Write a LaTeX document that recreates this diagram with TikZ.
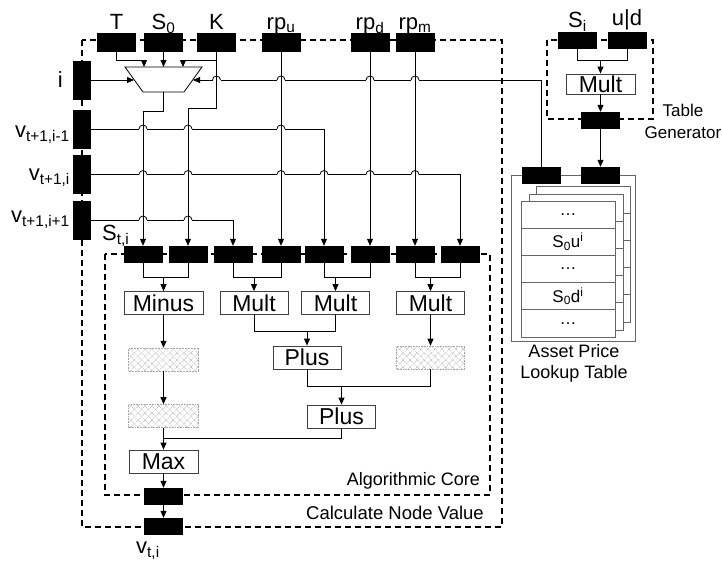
\documentclass[tikz,border=0pt]{standalone}
\usepackage{fontspec}
\setmainfont{Liberation Sans}
\usetikzlibrary{arrows.meta,positioning,calc,patterns.meta}
\tikzset{
  >={Triangle[length=7pt,width=6pt]},
  wire/.style={draw=black,line width=0.8pt},
  reg/.style={fill=black,draw=black,minimum width=38pt,minimum height=16pt,inner sep=0pt},
  vreg/.style={reg,minimum width=17pt,minimum height=38pt},
  opbox/.style={draw=black!75,fill=white,line width=0.8pt,minimum width=68pt,minimum height=23pt,inner sep=0pt,font=\fontsize{23}{25}\selectfont},
  hatbox/.style={draw=black!35,densely dotted,line width=0.6pt,minimum width=70pt,minimum height=23pt,pattern={Hatch[angle=45,distance=5pt,line width=0.5pt]},pattern color=black!35},
  lab/.style={font=\fontsize{22}{24}\selectfont,inner sep=0pt},
  slab/.style={font=\fontsize{18}{21}\selectfont,inner sep=0pt,align=center},
  bound/.style={dash pattern=on 6pt off 4pt,line width=1.2pt},
  card/.style={draw=black!60,fill=white,line width=0.8pt},
}
% little hop of a horizontal wire over a vertical one
\newcommand{\wirehop}[2]{%
  \fill[white] (#1-4,#2-1.2) rectangle (#1+4,#2+1.2);
  \draw[wire] (#1-4,#2) arc[start angle=180,end angle=360,radius=4];
  \draw[wire] (#1,#2-7) -- (#1,#2+7);}

\begin{document}
\begin{tikzpicture}[x=1pt,y=-1pt]
\useasboundingbox (0,0) rectangle (722,565);

% boundaries
\draw[bound] (82,40) rectangle (502,527);
\draw[bound] (105,254) rectangle (490,495);
\draw[bound] (547,40) rectangle (653,119);

% inputs
\foreach \n/\x/\t in {regT/116.5/T,regSo/163.5/{S\textsubscript{0}},regK/216.5/K,regU/281/{rp\textsubscript{u}},regD/370/{rp\textsubscript{d}},regM/415/{rp\textsubscript{m}}}{
  \node[reg,minimum height=18pt] (\n) at (\x,42) {};
  \node[lab,anchor=base] (\n-l) at ([yshift=3pt]\n.north) {\t};
}
\foreach \n/\y/\b/\e/\t in {regI/80/87/63/i,regVm/129/137/70/{v\textsubscript{t+1,i-1}},regVc/174.5/180/70/{v\textsubscript{t+1,i}},regVp/220/222/70/{v\textsubscript{t+1,i+1}}}{
  \node[vreg] (\n) at (81.5,\y) {};
  \node[lab,anchor=base east] (\n-l) at (\e,\b) {\t};
}

% selector
\coordinate (mux) at (163.5,79.5);
\draw[wire,fill=white] (125,67) -- (202,67) -- (184,92) -- (143,92) -- cycle;
\coordinate (muxA) at (144,67);
\coordinate (muxB) at (163.5,67);
\coordinate (muxC) at (183,67);
\coordinate (muxL) at (134,80);
\coordinate (muxR) at (193,80);
\coordinate (muxO) at (163.5,92);

% core
\foreach \x [count=\i] in {143,188,233,281,324,370,415,460}
  \node[reg] (c\i) at (\x,254) {};
\node[lab,anchor=base west] (c1-l) at (102,240) {S\textsubscript{t,i}};
\node[opbox,minimum width=79pt] (minus) at (163.5,303) {Minus};
\node[opbox] (mulA) at (254,303) {Mult};
\node[opbox] (mulB) at (335.5,303) {Mult};
\node[opbox] (mulC) at (430.5,303) {Mult};
\node[hatbox] (hatA) at (163.5,359.5) {};
\node[hatbox] (hatB) at (163.5,416) {};
\node[hatbox,minimum width=68pt] (hatC) at (430.5,357.5) {};
\node[opbox] (plusA) at (307,357.5) {Plus};
\node[opbox] (plusB) at (341.5,416.5) {Plus};
\node[opbox,minimum width=69pt] (maxb) at (163.5,461.5) {Max};
\node[reg] (out1) at (163.5,496) {};
\node[reg] (out2) at (163.5,526) {};
\node[lab,anchor=base west] (out-l) at (136,553) {v\textsubscript{t,i}};
\node[slab,anchor=base east] (core-l) at (480,485) {Algorithmic Core};
\node[slab,anchor=base west,font=\fontsize{18.5}{21}\selectfont] (calc-l) at (306,519) {Calculate Node Value};

% table generator
\node[reg] (regSi) at (577.5,40) {};
\node[reg] (regUD) at (627,40) {};
\node[lab,anchor=base] (regSi-l) at ([yshift=4pt]regSi.north) {S\textsubscript{i}};
\node[lab,anchor=base] (regUD-l) at ([yshift=6pt]regUD.north) {u|d};
\node[opbox,minimum width=69pt,minimum height=20pt] (mulT) at (600.5,84) {Mult};
\node[reg] (tgO) at (600.5,120) {};
\node[slab,font=\fontsize{17}{22}\selectfont] (tg-l) at (683,121) {Table\\Generator};

% lookup table
\draw[card] (511,175) rectangle (635,341);
\foreach \dx/\dy in {15/-15,8/-7,0/0}{
  \draw[card] (521+\dx,201+\dy) rectangle ++(94,136);
  \foreach \k in {1,2,3,4} {\draw[card] (521+\dx,201+\dy+27.2*\k) -- ++(94,0);}
}
\foreach \t [count=\k from 0] in {{\ldots},{S\textsubscript{0}u\textsuperscript{i}},{\ldots},{S\textsubscript{0}d\textsuperscript{i}},{\ldots}}{
  \node[font=\fontsize{17}{19}\selectfont] (row\k) at (568,214.6+27.2*\k) {\t};
}
\node[reg] (lutA) at (541,175) {};
\node[reg] (lutB) at (600.5,175) {};
\node[slab] (lut-l) at (574,363) {Asset Price\\Lookup Table};

% wires
\draw[wire] (regSi.south) |- ([yshift=13pt]mulT.north) -| (regUD.south);
\draw[wire,->] ([yshift=13pt]mulT.north) -- (mulT.north);
\draw[wire,->] (mulT.south) -- (tgO.north);
\draw[wire,->] (tgO.south) -- (lutB.north);
\draw[wire,->] (lutA.north) |- (muxR);

\draw[wire,->] (regT.south) -- ++(0,9) -| (muxA);
\draw[wire,->] (regSo.south) -- (muxB);
\draw[wire,->] ([yshift=-9pt]regK.south) -| (muxC);
\draw[wire,->] (regI.east) -- (muxL);
\draw[wire,->] (muxO) -- ++(0,19) -| (c1.north);
\draw[wire,->] (regK.south) -- ++(0,57) -| (c2.north);
\draw[wire,->] (regVp.east) -| (c3.north);
\draw[wire,->] (regVm.east) -| (c5.north);
\draw[wire,->] (regVc.east) -| (c8.north);
\foreach \a/\b in {regU/c4,regD/c6,regM/c7}{
  \draw[wire,->] (\a.south) -- (\b.north);
}

\foreach \x/\y in {216.5/80,281/80,370/80,415/80,143/129,188/129,281/129,143/174.5,188/174.5,281/174.5,324/174.5,370/174.5,415/174.5,143/220,188/220}{
  \wirehop{\x}{\y}
}

\foreach \a/\b/\t in {c1/c2/minus,c3/c4/mulA,c5/c6/mulB,c7/c8/mulC}{
  \draw[wire] (\a.south) |- ([yshift=14pt]\t.north) -| (\b.south);
  \draw[wire,->] ([yshift=14pt]\t.north) -- (\t.north);
}
\draw[wire,->] (minus) -- (hatA);
\draw[wire,->] (hatA) -- (hatB);
\draw[wire,->] (mulC) -- (hatC);
\draw[wire] (mulA.south) |- ([yshift=14pt]plusA.north) -| (mulB.south);
\draw[wire,->] ([yshift=14pt]plusA.north) -- (plusA.north);
\draw[wire] (plusA.south) |- ([yshift=18pt]plusB.north) -| (hatC.south);
\draw[wire,->] ([yshift=18pt]plusB.north) -- (plusB.north);
\draw[wire] (plusB.south) |- ([yshift=11pt]maxb.north);
\draw[wire,->] (hatB) -- (maxb);
\draw[wire,->] (maxb) -- (out1);
\draw[wire,->] (out1) -- (out2);
\end{tikzpicture}
\end{document}
